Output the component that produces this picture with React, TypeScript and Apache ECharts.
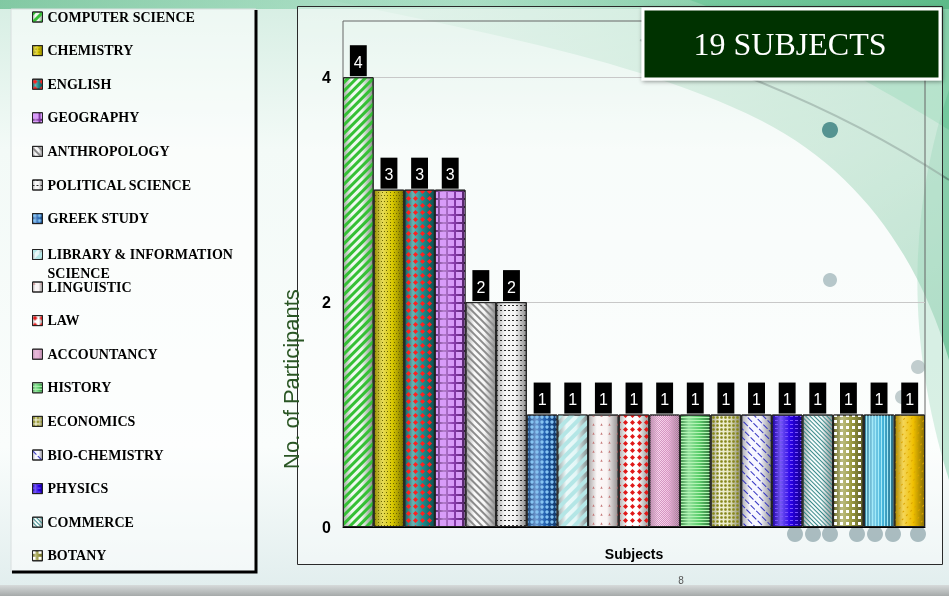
import React, { useEffect, useRef } from 'react';
import * as echarts from 'echarts';

// ---------- data ----------
const subjects = [
  'COMPUTER SCIENCE', 'CHEMISTRY', 'ENGLISH', 'GEOGRAPHY', 'ANTHROPOLOGY',
  'POLITICAL SCIENCE', 'GREEK STUDY', 'LIBRARY & INFORMATION SCIENCE', 'LINGUISTIC',
  'LAW', 'ACCOUNTANCY', 'HISTORY', 'ECONOMICS', 'BIO-CHEMISTRY', 'PHYSICS',
  'COMMERCE', 'BOTANY', 'SUBJECT 18', 'SUBJECT 19',
];
const participants = [4, 3, 3, 3, 2, 2, 1, 1, 1, 1, 1, 1, 1, 1, 1, 1, 1, 1, 1];
const categories = ['Subjects'];
const yTickLabels = ['0', '2', '4'];
const legendVisibleCount = 17;
const titleText = '19 SUBJECTS';
const yAxisTitle = 'No. of Participants';
const xAxisTitle = 'Subjects';
const pageNumber = '8';

// ---------- styles ----------
const D45 = Math.PI / 4;
const barStyles: { base: string; decal: any }[] = [
  { base: '#eaf8ea', decal: { symbol: 'rect', color: '#35c035', dashArrayX: [1, 0], dashArrayY: [2.5, 3], rotation: -D45 } },
  { base: '#d8c800', decal: { symbol: 'rect', color: '#6a6400', dashArrayX: [[1, 2], [0, 1.5, 1, 0.5]], dashArrayY: [1, 1.5] } },
  { base: '#1a8a8a', decal: { symbol: 'diamond', color: '#ff2020', symbolSize: 1, dashArrayX: [5, 2], dashArrayY: [5, 2] } },
  { base: '#8a3cae', decal: { symbol: 'rect', color: '#d89cf8', dashArrayX: [6, 1.2], dashArrayY: [6, 1.2] } },
  { base: '#f6f6f6', decal: { symbol: 'rect', color: '#8c8c8c', dashArrayX: [1, 0], dashArrayY: [2, 3], rotation: D45 } },
  { base: '#f4f4f4', decal: { symbol: 'rect', color: '#2a2a2a', dashArrayX: [2, 2], dashArrayY: [1, 4] } },
  { base: '#1f5fb0', decal: { symbol: 'circle', color: '#86c4f2', symbolSize: 0.85, dashArrayX: [4, 1], dashArrayY: [4, 1] } },
  { base: '#e2f6f6', decal: { symbol: 'rect', color: '#b4e6e6', dashArrayX: [1, 0], dashArrayY: [4, 4], rotation: -D45 } },
  { base: '#faf4f4', decal: { symbol: 'triangle', color: '#c47a7a', symbolSize: 0.8, dashArrayX: [3, 5], dashArrayY: [3, 6] } },
  { base: '#ffffff', decal: { symbol: 'diamond', color: '#e01818', symbolSize: 1, dashArrayX: [5, 2], dashArrayY: [5, 2] } },
  { base: '#f4c6e4', decal: { symbol: 'rect', color: '#d496c2', dashArrayX: [[1, 1], [0, 1, 1, 0]], dashArrayY: [1, 0] } },
  { base: '#5ccf6c', decal: { symbol: 'rect', color: '#b4f4b4', dashArrayX: [1, 0], dashArrayY: [1, 2] } },
  { base: '#e8e8c0', decal: { symbol: 'circle', color: '#86861a', symbolSize: 0.9, dashArrayX: [3, 1], dashArrayY: [3, 1] } },
  { base: '#f6f6ff', decal: { symbol: 'rect', color: '#2f2fc0', dashArrayX: [6, 2], dashArrayY: [1, 5], rotation: D45 } },
  { base: '#2800e8', decal: { symbol: 'rect', color: '#7a52ff', dashArrayX: [3, 2], dashArrayY: [1, 3] } },
  { base: '#f2fafa', decal: { symbol: 'rect', color: '#3a8a8a', dashArrayX: [1, 0], dashArrayY: [1, 2], rotation: D45 } },
  { base: '#9a9a40', decal: { symbol: 'rect', color: '#ffffff', dashArrayX: [3, 3], dashArrayY: [3, 3] } },
  { base: '#46b6dc', decal: { symbol: 'rect', color: '#a4eaf8', dashArrayX: [1, 0], dashArrayY: [1, 2], rotation: Math.PI / 2 } },
  { base: '#f0c000', decal: { symbol: 'rect', color: '#dca400', dashArrayX: [2, 4], dashArrayY: [1, 4], rotation: -D45 } },
];

function shade(hex: string, amt: number) {
  const n = parseInt(hex.slice(1), 16);
  const r = (n >> 16) & 255, g = (n >> 8) & 255, b = n & 255;
  const f = (v: number) => (amt < 0 ? Math.round(v * (1 + amt)) : Math.round(v + (255 - v) * amt));
  return `rgb(${f(r)},${f(g)},${f(b)})`;
}
function cylinder(hex: string) {
  return new echarts.graphic.LinearGradient(0, 0, 1, 0, [
    { offset: 0, color: shade(hex, -0.3) },
    { offset: 0.28, color: shade(hex, 0.35) },
    { offset: 0.62, color: hex },
    { offset: 1, color: shade(hex, -0.42) },
  ]);
}

echarts.graphic.registerShape('bgSwoosh', echarts.graphic.extendPath(
  'M 330 0 L 949 0 L 949 360 C 920 260 860 170 760 120 C 640 60 470 30 330 0 Z', {}) as any);
echarts.graphic.registerShape('bgSwoosh2', echarts.graphic.extendPath(
  'M 690 0 C 800 40 900 100 949 130 L 949 0 Z', {}) as any);
echarts.graphic.registerShape('bgSwooshLine', echarts.graphic.extendPath(
  'M 640 40 C 740 70 850 115 949 180', {}) as any);
echarts.graphic.registerShape('bgSwooshRight', echarts.graphic.extendPath(
  'M 949 90 C 912 200 902 330 949 480 Z', {}) as any);

const LIB = 'LIBRARY & INFORMATION SCIENCE';

export default function App() {
  const ref = useRef<HTMLDivElement>(null);
  useEffect(() => {
    if (!ref.current) return;
    const chart = echarts.init(ref.current, undefined, { renderer: 'svg' });

    const legendBase = {
      orient: 'vertical',
      left: 32,
      padding: 0,
      itemGap: 19.6,
      itemWidth: 10,
      itemHeight: 10,
      icon: 'rect',
      selectedMode: false,
      itemStyle: { borderColor: '#222', borderWidth: 1 },
      textStyle: { fontFamily: 'Liberation Serif', fontWeight: 'bold', fontSize: 14, color: '#000' },
    };

    const dots = [
      [830, 130, 8, '#3f8484'], [830, 280, 7, '#aabdc1'], [918, 367, 7, '#b6c4c6'], [902, 397, 7, '#b6c4c6'],
      [795, 534, 8, '#9cb2b6'], [813, 534, 8, '#9cb2b6'], [830, 534, 8, '#9cb2b6'],
      [857, 534, 8, '#9cb2b6'], [875, 534, 8, '#9cb2b6'], [893, 534, 8, '#9cb2b6'], [918, 534, 8, '#9cb2b6'],
    ];

    chart.setOption({
      animation: false,
      graphic: [
        {
          type: 'rect', z: -100, shape: { x: 0, y: 0, width: 949, height: 596 },
          style: {
            fill: new echarts.graphic.LinearGradient(0, 0, 0, 1, [
              { offset: 0, color: '#d6eee3' }, { offset: 0.25, color: '#f3faf7' },
              { offset: 0.75, color: '#fafdfc' }, { offset: 1, color: '#e0eded' },
            ]),
          },
        },
        {
          type: 'bgSwoosh', z: -99,
          style: {
            fill: new echarts.graphic.LinearGradient(0, 0, 1, 1, [
              { offset: 0, color: 'rgba(70,180,120,0.05)' }, { offset: 0.5, color: 'rgba(60,170,110,0.3)' },
              { offset: 1, color: 'rgba(40,160,100,0.5)' },
            ]),
          },
        },
        { type: 'bgSwoosh2', z: -98, style: { fill: 'rgba(70,190,130,0.35)' } },
        { type: 'bgSwooshRight', z: -98, style: { fill: 'rgba(80,185,135,0.35)' } },
        { type: 'bgSwooshLine', z: -97, style: { fill: 'none', stroke: 'rgba(70,100,90,0.55)', lineWidth: 2 } },
        {
          type: 'rect', z: -96, shape: { x: 0, y: 0, width: 949, height: 9 },
          style: { fill: new echarts.graphic.LinearGradient(0, 0, 1, 0, [
            { offset: 0, color: 'rgba(60,170,110,0.55)' }, { offset: 0.5, color: 'rgba(100,200,150,0.3)' },
            { offset: 1, color: 'rgba(60,170,110,0.55)' }]) },
        },
        {
          type: 'rect', z: -95, shape: { x: 0, y: 585, width: 949, height: 11 },
          style: { fill: new echarts.graphic.LinearGradient(0, 0, 0, 1, [
            { offset: 0, color: '#d6dada' }, { offset: 1, color: '#a6aaaa' }]) },
        },
        // legend box
        {
          type: 'rect', z: -90, shape: { x: 11, y: 9, width: 245, height: 563 },
          style: { fill: 'rgba(255,255,255,0.55)', stroke: '#d8dede', lineWidth: 1 },
        },
        {
          type: 'polyline', z: -89, shape: { points: [[256, 10], [256, 572], [12, 572]] },
          style: { fill: 'none', stroke: '#000', lineWidth: 3 },
        },
        // chart frame
        {
          type: 'rect', z: -88, shape: { x: 297.5, y: 6.5, width: 645, height: 558 },
          style: { fill: 'rgba(255,255,255,0.4)', stroke: '#2a2a2a', lineWidth: 1 },
        },
        ...dots.map(([cx, cy, r, c]) => ({
          type: 'circle', z: -87, shape: { cx, cy, r }, style: { fill: c as string, opacity: 0.85 },
        })),
        // y axis title
        {
          type: 'text', z: 5, x: 291, y: 379, rotation: Math.PI / 2,
          style: {
            text: yAxisTitle, fill: '#2a5624', fontFamily: 'Liberation Sans', fontSize: 22,
            align: 'center', verticalAlign: 'middle',
          },
        },
        // title box
        {
          type: 'rect', z: 20, shape: { x: 643, y: 9, width: 297, height: 70 },
          style: { fill: '#003300', stroke: '#ffffff', lineWidth: 3, shadowBlur: 4, shadowColor: 'rgba(0,0,0,0.45)', shadowOffsetX: 1, shadowOffsetY: 1 },
        },
        {
          type: 'text', z: 21, x: 790, y: 44,
          style: {
            text: titleText, fill: '#ffffff', fontFamily: 'Liberation Serif', fontSize: 32,
            align: 'center', verticalAlign: 'middle',
          },
        },
        {
          type: 'text', z: 5, x: 681, y: 580,
          style: { text: pageNumber, fill: '#555', fontFamily: 'Liberation Sans', fontSize: 10, align: 'center', verticalAlign: 'middle' },
        },
      ],
      legend: [
        { ...legendBase, top: 10, data: subjects.slice(0, 7) },
        {
          ...legendBase, top: 226, data: [LIB],
          formatter: () => '\nLIBRARY & INFORMATION\nSCIENCE',
          textStyle: { ...legendBase.textStyle, lineHeight: 19 },
        },
        { ...legendBase, top: 280, data: subjects.slice(8, legendVisibleCount) },
      ],
      grid: {
        left: 343, right: 24, top: 21, bottom: 69,
        show: true, borderColor: '#666', borderWidth: 1, backgroundColor: 'transparent',
      },
      xAxis: {
        type: 'category', data: categories,
        axisLine: { lineStyle: { color: '#000', width: 1 } },
        axisTick: { show: false }, axisLabel: { show: false },
        name: xAxisTitle, nameLocation: 'middle', nameGap: 20,
        nameTextStyle: { fontFamily: 'Liberation Sans', fontWeight: 'bold', fontSize: 14, color: '#000' },
      },
      yAxis: {
        type: 'value', min: 0, max: 4.5, interval: 2,
        axisLine: { show: false }, axisTick: { show: false },
        axisLabel: {
          fontFamily: 'Liberation Sans', fontWeight: 'bold', fontSize: 16, color: '#000', margin: 12,
          showMaxLabel: false,
          formatter: (v: number) => (yTickLabels.includes(String(v)) ? String(v) : ''),
        },
        splitLine: { lineStyle: { color: '#c8c8c8' }, showMinLine: false, showMaxLine: false },
      },
      series: subjects.map((name, i) => ({
        type: 'bar', name, data: [participants[i]],
        barGap: '0%', barCategoryGap: '0%',
        itemStyle: {
          color: cylinder(barStyles[i].base), decal: barStyles[i].decal,
          borderColor: '#222', borderWidth: 1,
        },
        label: {
          show: true, position: 'top', distance: 1, color: '#fff', backgroundColor: '#000',
          padding: [9, 4, 6, 4], fontSize: 16, fontFamily: 'Liberation Sans',
        },
        emphasis: { disabled: true },
      })),
    } as any);

    return () => chart.dispose();
  }, []);

  return <div ref={ref} style={{ position: 'fixed', left: 0, top: 0, width: 949, height: 596 }} />;
}
